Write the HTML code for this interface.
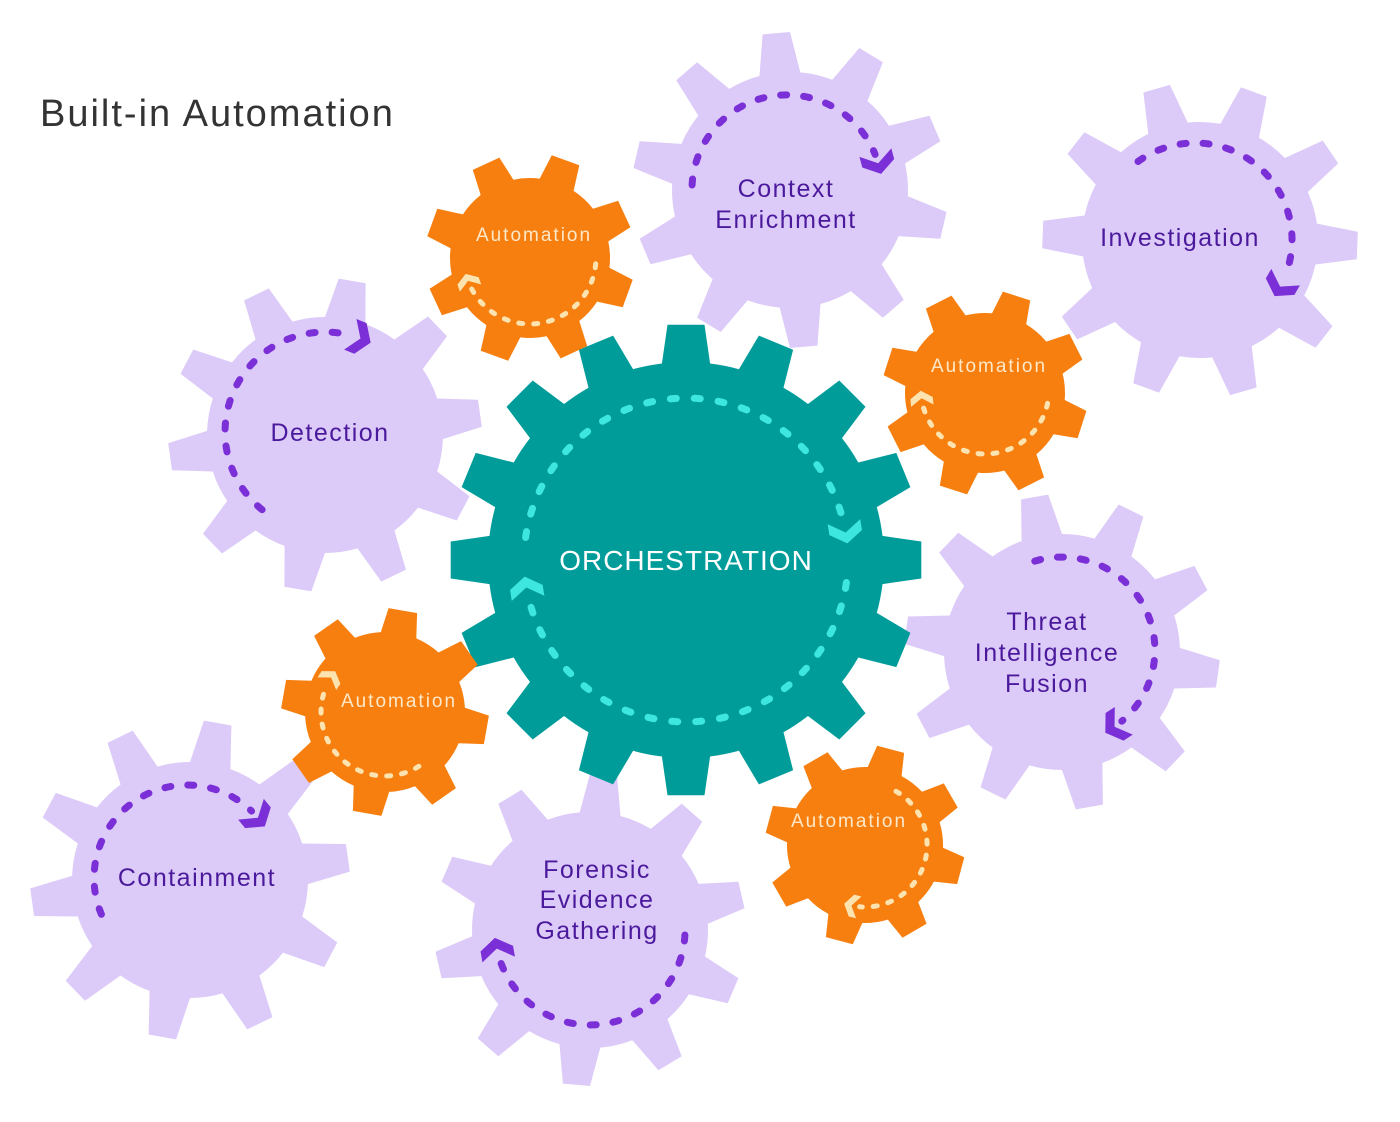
<!DOCTYPE html>
<html><head><meta charset="utf-8"><style>
html,body{margin:0;padding:0;background:#fff;}
svg{display:block;}
text{font-family:"Liberation Sans",sans-serif;}
</style></head><body>
<svg id="s" width="1400" height="1122" viewBox="0 0 1400 1122" xmlns="http://www.w3.org/2000/svg">
<g id="gears"></g>
<g id="arcs"></g>
<text x="40" y="126" font-size="38" fill="#333" letter-spacing="2">Built-in Automation</text>
<g font-size="25" fill="#4b1a9c" text-anchor="middle" letter-spacing="1.5">
<text x="786" y="197">Context</text><text x="786" y="228">Enrichment</text>
<text x="1180" y="246">Investigation</text>
<text x="330" y="441">Detection</text>
<text x="1047" y="630">Threat</text><text x="1047" y="661">Intelligence</text><text x="1047" y="692">Fusion</text>
<text x="597" y="878">Forensic</text><text x="597" y="908">Evidence</text><text x="597" y="939">Gathering</text>
<text x="197" y="886">Containment</text>
</g>
<text x="686" y="570" font-size="28" fill="#fff" text-anchor="middle" letter-spacing="1">ORCHESTRATION</text>
<g font-size="19" fill="#fde8c8" text-anchor="middle" letter-spacing="2">
<text x="534" y="241">Automation</text>
<text x="989" y="372">Automation</text>
<text x="399" y="707">Automation</text>
<text x="849" y="827">Automation</text>
</g>
</svg>
<script>
var NS="http://www.w3.org/2000/svg";
function P(cx,cy,r,a){a=a*Math.PI/180;return [cx+r*Math.cos(a),cy+r*Math.sin(a)];}
function f(p){return p[0].toFixed(1)+","+p[1].toFixed(1);}
function gear(cx,cy,n,ro,ri,rot,ht,hb,fill){
  var d="",step=360/n;
  for(var i=0;i<n;i++){
    var t=rot+i*step;
    var b0=P(cx,cy,ri,t-hb),t0=P(cx,cy,ro,t-ht),t1=P(cx,cy,ro,t+ht),b1=P(cx,cy,ri,t+hb),nb=P(cx,cy,ri,t+step-hb);
    d+=(i==0?"M":"L")+f(b0)+"L"+f(t0)+"L"+f(t1)+"L"+f(b1)+"A"+ri+","+ri+" 0 0 1 "+f(nb);
  }
  d+="Z";
  var p=document.createElementNS(NS,"path");p.setAttribute("d",d);p.setAttribute("fill",fill);
  document.getElementById("gears").appendChild(p);
}
function arc(cx,cy,r,a0,a1,col,w,dash,arrow,sc){
  var g=document.getElementById("arcs");
  var s=P(cx,cy,r,a0),e=P(cx,cy,r,a1);
  var large=(a1-a0)>180?1:0;
  var p=document.createElementNS(NS,"path");
  p.setAttribute("d","M"+f(s)+"A"+r+","+r+" 0 "+large+" 1 "+f(e));
  p.setAttribute("fill","none");p.setAttribute("stroke",col);p.setAttribute("stroke-width",w);
  p.setAttribute("stroke-dasharray",dash);p.setAttribute("stroke-linecap","round");
  g.appendChild(p);
  if(arrow){
    var aa=a1+(sc>0.9?7:9);var q=P(cx,cy,r,aa);
    var ang=aa+90;
    var c=document.createElementNS(NS,"path");
    c.setAttribute("d","M-12,-15 L-2,-15 L8,0 L-2,15 L-12,15 L-2,0 Z");
    c.setAttribute("fill",col);
    c.setAttribute("transform","translate("+f(q)+") rotate("+ang+") scale("+sc+")");
    g.appendChild(c);
  }
}
var PU="#dccaf8",OR="#f77f0f",TE="#009c9a";
gear(325,435,10,157,118,-80,5,10,PU);
gear(790,190,10,158,118,-95,5,10,PU);
gear(1200,240,10,158,118,-70,5,10,PU);
gear(1062,652,10,158,118,-100,5,10,PU);
gear(590,930,10,156,118,-85,5,10,PU);
gear(190,880,10,160,118,-80,5,10,PU);
gear(686,560,16,236,198,-90,4.5,7,TE);
gear(530,258,8,105,80,-70,8,13,OR);
gear(985,393,8,103,80,-72,8,13,OR);
gear(385,712,8,104,80,-80,8,13,OR);
gear(865,845,8,100,78,-75,8,13,OR);
var PD="#7b2fd6";
arc(325,432,100,129,285,PD,7,"6 17",1,1.1);
arc(787,190,95,183,338,PD,7,"6 17",1,1.1);
arc(1195,240,97,234,383,PD,7,"6 17",1,1.1);
arc(1062,650,93,253,410,PD,7,"6 17",1,1.1);
arc(590,930,95,3,163,PD,7,"6 17",1,1.1);
arc(187,878,93,157,314,PD,7,"6 17",1,1.1);
var TD="#3ee6e0";
arc(686,560,162,8,164,TD,7,"6 18",1,1.1);
arc(686,560,162,188,344,TD,7,"6 18",1,1.1);
var CR="#fde3b0";
arc(530,258,66,5,152,CR,5,"4 11",1,0.75);
arc(985,390,64,12,165,CR,5,"4 11",1,0.75);
arc(385,712,64,58,205,CR,5,"4 11",1,0.75);
arc(865,845,62,300,455,CR,5,"4 11",1,0.75);
</script>
</body></html>
